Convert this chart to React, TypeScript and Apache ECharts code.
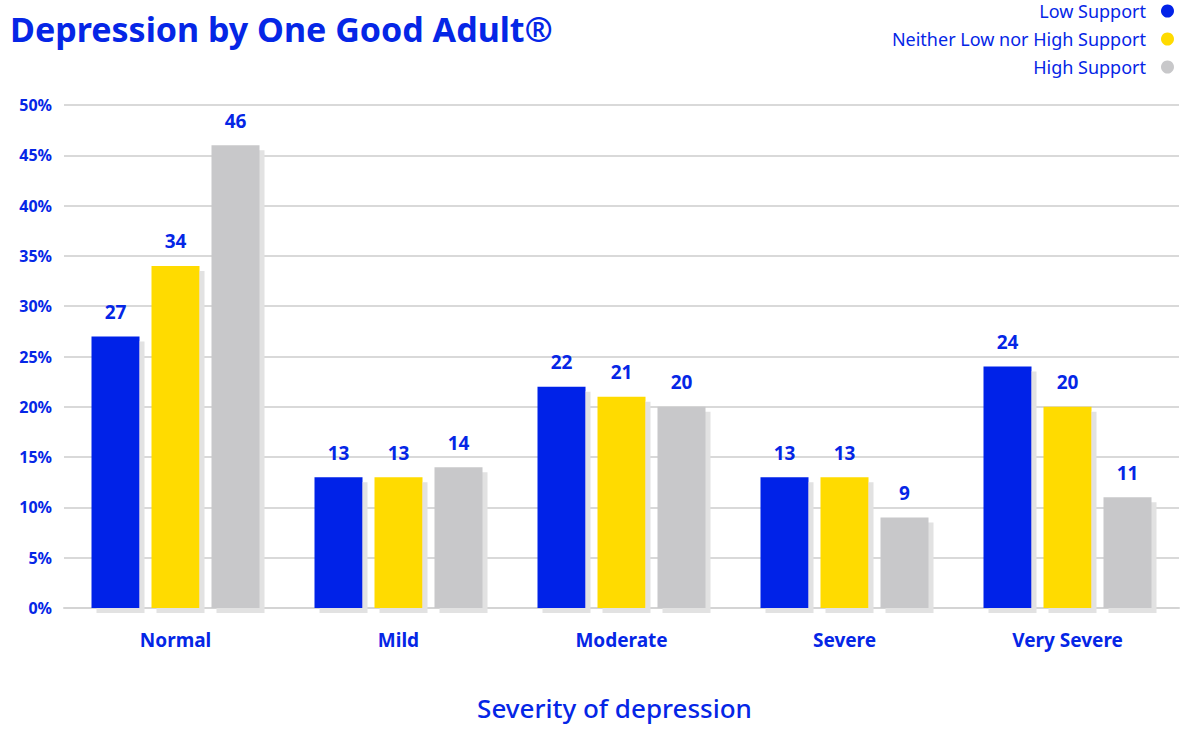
import React, { useEffect, useRef } from "react";
import * as echarts from "echarts";

const categories = ["Normal", "Mild", "Moderate", "Severe", "Very Severe"];
const seriesNames = ["Low Support", "Neither Low nor High Support", "High Support"];
const lowSupport = [27, 13, 22, 13, 24];
const neitherSupport = [34, 13, 21, 13, 20];
const highSupport = [46, 14, 20, 9, 11];
const colors = ["#0222E8", "#FFDB00", "#C8C8CA"];

const BLUE = "#0526E6";
const FONT = "'Noto Sans', sans-serif";

export default function App() {
  const ref = useRef<HTMLDivElement>(null);
  useEffect(() => {
    document.body.style.margin = "0";
    const chart = echarts.init(ref.current!, null, { renderer: "svg" });
    const values = [lowSupport, neitherSupport, highSupport];
    chart.setOption({
      animation: false,
      textStyle: { fontFamily: FONT },
      title: {
        text: "Depression by One Good Adult®",
        left: 5,
        top: 7,
        textStyle: { color: BLUE, fontSize: 34, fontWeight: "bold", fontFamily: FONT },
      },
      legend: {
        orient: "vertical",
        right: 7,
        top: 1,
        padding: 0,
        align: "right",
        icon: "circle",
        itemWidth: 13,
        itemHeight: 13,
        itemGap: 8,
        textStyle: {
          color: BLUE,
          fontSize: 18,
          lineHeight: 20,
          fontFamily: FONT,
          padding: [0, 10, 0, 0],
        },
        data: seriesNames,
      },
      grid: { left: 64, right: 2, top: 105, bottom: 121, containLabel: false, outerBoundsMode: "none" },
      xAxis: {
        type: "category",
        data: categories,
        name: "Severity of depression",
        nameLocation: "middle",
        nameGap: 87,
        nameTextStyle: {
          color: BLUE,
          fontSize: 26,
          lineHeight: 26,
          fontWeight: 500,
          fontFamily: FONT,
          padding: [0, 14, 0, 0],
        },
        axisLine: { lineStyle: { color: "#d4d4d4", width: 2 } },
        axisTick: { inside: true, length: 11, lineStyle: { color: "#d4d4d4", width: 1 } },
        axisLabel: { color: BLUE, fontSize: 19, fontWeight: "bold", margin: 22, fontFamily: FONT },
      },
      yAxis: {
        type: "value",
        min: 0,
        max: 50,
        interval: 5,
        axisLine: { show: false },
        axisTick: { show: false },
        splitLine: { lineStyle: { color: "#d9d9d9", width: 2 } },
        axisLabel: {
          color: BLUE,
          fontSize: 16,
          fontWeight: "bold",
          margin: 12,
          fontFamily: FONT,
          formatter: "{value}%",
        },
      },
      series: seriesNames.map((name, i) => ({
        name,
        type: "bar",
        data: values[i],
        barWidth: 48,
        barGap: "25%",
        itemStyle: {
          color: colors[i],
          shadowColor: "#e2e2e2",
          shadowBlur: 0,
          shadowOffsetX: 5,
          shadowOffsetY: 5,
        },
        label: {
          show: true,
          position: "top",
          distance: 15,
          color: BLUE,
          fontSize: 19,
          fontWeight: "bold",
          fontFamily: FONT,
        },
      })),
    });
    return () => chart.dispose();
  }, []);
  return (
    <div
      ref={ref}
      style={{ position: "absolute", left: 0, top: 0, width: 1181, height: 729, background: "#fff" }}
    />
  );
}
